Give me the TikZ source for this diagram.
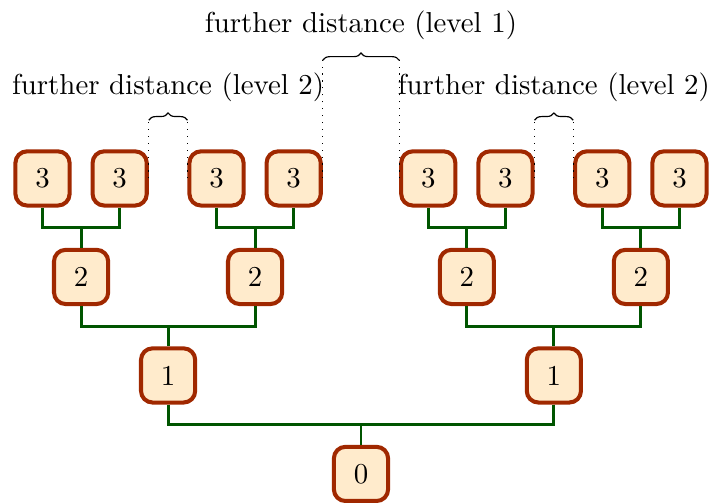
\documentclass[tikz,border=0pt]{standalone}
\usetikzlibrary{positioning,decorations.pathreplacing}
\definecolor{boxline}{RGB}{160,40,0}
\definecolor{boxfill}{RGB}{255,235,204}
\definecolor{linkgreen}{RGB}{0,85,0}

\begin{document}
\begin{tikzpicture}[
        treenode/.style={draw=boxline, fill=boxfill, line width=1.4pt, rounded corners=4pt, minimum size=0.66cm, inner sep=0pt},
        link/.style={draw=linkgreen, line width=1pt},
        gapbrace/.style={decorate, decoration={brace, amplitude=2.5pt}}
    ]
    \useasboundingbox (-4.398,-0.353) rectangle (4.252,5.774);

    % levels 0 to 2
    \node[treenode] (r) at (0,0) {0};
    \node[treenode] (a) at (-2.35,1.2) {1};
    \node[treenode] (b) at (2.35,1.2) {1};
    \node[treenode] (a1) at (-3.41,2.4) {2};
    \node[treenode] (a2) at (-1.29,2.4) {2};
    \node[treenode] (b1) at (1.29,2.4) {2};
    \node[treenode] (b2) at (3.41,2.4) {2};

    % leaves
    \node[treenode] (a11) at (-3.88,3.6) {3};
    \node[treenode] (a12) at (-2.94,3.6) {3};
    \node[treenode] (a21) at (-1.76,3.6) {3};
    \node[treenode] (a22) at (-0.82,3.6) {3};
    \node[treenode] (b11) at (0.82,3.6) {3};
    \node[treenode] (b12) at (1.76,3.6) {3};
    \node[treenode] (b21) at (2.94,3.6) {3};
    \node[treenode] (b22) at (3.88,3.6) {3};

    \coordinate (bar1) at (0,0.6);
    \coordinate (bar2) at (0,1.8);
    \coordinate (bar3) at (0,3.0);
    \coordinate (top2) at (0,4.31);
    \coordinate (top1) at (0,5.04);

    % forked edges
    \draw[link] (a.south) -- (a |- bar1) -| (r.north);
    \draw[link] (b.south) -- (b |- bar1) -| (r.north);
    \draw[link] (a1.south) -- (a1 |- bar2) -| (a.north);
    \draw[link] (a2.south) -- (a2 |- bar2) -| (a.north);
    \draw[link] (b1.south) -- (b1 |- bar2) -| (b.north);
    \draw[link] (b2.south) -- (b2 |- bar2) -| (b.north);
    \draw[link] (a11.south) -- (a11 |- bar3) -| (a1.north);
    \draw[link] (a12.south) -- (a12 |- bar3) -| (a1.north);
    \draw[link] (a21.south) -- (a21 |- bar3) -| (a2.north);
    \draw[link] (a22.south) -- (a22 |- bar3) -| (a2.north);
    \draw[link] (b11.south) -- (b11 |- bar3) -| (b1.north);
    \draw[link] (b12.south) -- (b12 |- bar3) -| (b1.north);
    \draw[link] (b21.south) -- (b21 |- bar3) -| (b2.north);
    \draw[link] (b22.south) -- (b22 |- bar3) -| (b2.north);

    % distances
    \draw[dotted] (a12.east) -- (a12.east |- top2);
    \draw[dotted] (a21.west) -- (a21.west |- top2);
    \draw[gapbrace] (a12.east |- top2) -- node[above=3pt] (gapa) {further distance (level 2)} (a21.west |- top2);
    \draw[dotted] (b12.east) -- (b12.east |- top2);
    \draw[dotted] (b21.west) -- (b21.west |- top2);
    \draw[gapbrace] (b12.east |- top2) -- node[above=3pt] (gapb) {further distance (level 2)} (b21.west |- top2);
    \draw[dotted] (a22.east) -- (a22.east |- top1);
    \draw[dotted] (b11.west) -- (b11.west |- top1);
    \draw[gapbrace] (a22.east |- top1) -- node[above=3.5pt] (gapr) {further distance (level 1)} (b11.west |- top1);
\end{tikzpicture}
\end{document}
